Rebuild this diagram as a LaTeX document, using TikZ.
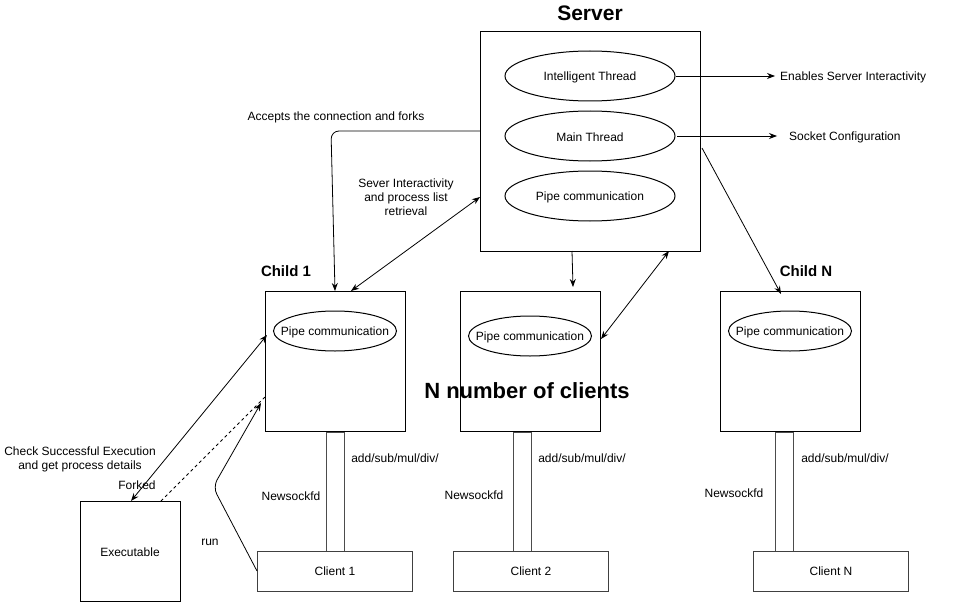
\documentclass[tikz,border=0pt]{standalone}
\usepackage{fontspec}
\setmainfont{Liberation Sans}
\usetikzlibrary{arrows.meta,shapes.geometric}
\begin{document}
\begin{tikzpicture}[x=1pt,y=-1pt,
  every node/.style={font=\fontsize{12}{14}\selectfont, inner sep=0pt},
  box/.style={draw, line width=1pt, minimum width=140pt, minimum height=140pt, anchor=north west},
  oval/.style={draw, ellipse, line width=1pt, minimum width=170pt, minimum height=50pt},
  soval/.style={draw, ellipse, line width=1pt, minimum width=123pt, minimum height=40pt},
  pipe/.style={draw=black!70, line width=1pt, fill=white, minimum width=18pt, minimum height=119pt, anchor=north west},
  client/.style={draw=black!75, line width=1pt, minimum width=155pt, minimum height=40pt, anchor=north west},
  lbl/.style={align=center},
  title/.style={font=\fontsize{15}{18}\selectfont\bfseries},
  big/.style={font=\fontsize{21}{25}\selectfont\bfseries},
  arr/.style={line width=0.8pt, -{Stealth[length=8pt,width=6pt]}},
  darr/.style={line width=0.8pt, {Stealth[length=8pt,width=6pt]}-{Stealth[length=8pt,width=6pt]}}
]
\useasboundingbox (0,0) rectangle (978,602);

% Server
\node[draw, line width=1pt, minimum width=220pt, minimum height=220pt, anchor=north west] (server) at (480,31) {};
\node[big] (servert) at (590,13) {Server};
\node[oval] (it) at (590,76) {};
\node[oval] (mt) at (590,136) {};
\node[oval] (pc) at (590,196) {};
\node (itt) at (590,77) {Intelligent Thread};
\node (mtt) at (590,137) {Main Thread};
\node (pct) at (590,197) {Pipe communication};
\coordinate (e1) at (775,76);
\coordinate (e2) at (777,136);
\node[anchor=west] (t1) at (780,77) {Enables Server Interactivity};
\node[anchor=west] (t2) at (789,137) {Socket Configuration};
\draw[arr] (it.east) -- (e1);
\draw[arr] (677,136) -- (e2);

% Children
\node[box] (c1) at (265,291) {};
\node[box] (c2) at (460,291) {};
\node[box] (cn) at (720,291) {};
\node[title] (c1t) at (286,271) {Child 1};
\node[title] (cnt) at (806,271) {Child N};
\node[soval] (p1) at (335,331) {};
\node[soval] (p2) at (530,336) {};
\node[soval] (pn) at (790,331) {};
\node (p1t) at (335,332) {Pipe communication};
\node (p2t) at (530,337) {Pipe communication};
\node (pnt) at (790,332) {Pipe communication};
\node[font=\fontsize{22}{26}\selectfont\bfseries] (nn) at (527,391) {N number of clients};

% Pipes and clients
\node[pipe] (s1) at (326,432) {};
\node[pipe] (s2) at (513,432) {};
\node[pipe] (sn) at (775,432) {};
\node[client] (cl1) at (257,551) {Client 1};
\node[client] (cl2) at (453,551) {Client 2};
\node[client] (cln) at (753,551) {Client N};
\node[draw, line width=1pt, minimum width=100pt, minimum height=100pt, anchor=north west] (exe) at (80,501) {};
\node (exet) at (130,552) {Executable};

% Labels
\node (a1) at (395,458) {add/sub/mul/div/};
\node (a2) at (582,458) {add/sub/mul/div/};
\node (an) at (845,458) {add/sub/mul/div/};
\node (n1) at (291,496) {Newsockfd};
\node (n2) at (474,495) {Newsockfd};
\node (nN) at (734,493) {Newsockfd};
\node (run) at (210,542) {run};
\node (forked) at (137,485) {Forked};
\node[lbl] (check) at (80,459) {Check Successful Execution\\and get process details};
\node (acc) at (336,117) {Accepts the connection and forks};
\node[lbl] (sev) at (406,197) {Sever Interactivity\\and process list\\retrieval};

% Connectors
\draw[arr, rounded corners=8pt] (480,131) -- (331,131) -- (335,291);
\draw[darr] (351,291) -- (480,197);
\draw[arr] (572,251) -- (573,287);
\draw[darr] (601,339) -- (669,251);
\draw[arr] (702,148) -- (781,294);
\draw[darr] (131,501) -- (267,335);
\draw[line width=0.8pt, dash pattern=on 3pt off 3pt] (161,501) -- (265,397);
\draw[arr, rounded corners=8pt] (257,571) -- (213,487) -- (261,403);
\end{tikzpicture}
\end{document}
